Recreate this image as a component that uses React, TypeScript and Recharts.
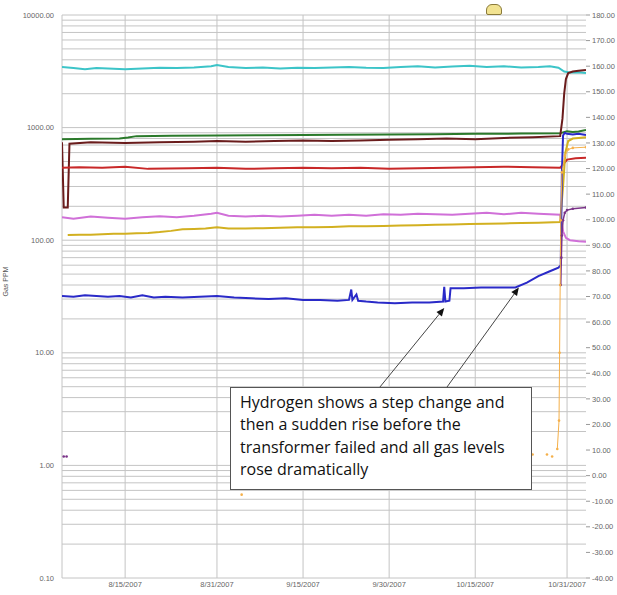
import React from 'react';
import {
  LineChart,
  Line,
  XAxis,
  YAxis,
  CartesianGrid,
  ReferenceLine,
} from 'recharts';

// x values are days counted from 8/1/2007
const xTicks = [14, 30, 45, 60, 75, 91];
const xTickLabels = ['8/15/2007', '8/31/2007', '9/15/2007', '9/30/2007', '10/15/2007', '10/31/2007'];
const xDomain = [3, 94.3];

const leftTicks = [0.1, 1, 10, 100, 1000, 10000];
const rightTicks = [-40, -30, -20, -10, 0, 10, 20, 30, 40, 50, 60, 70, 80, 90, 100, 110, 120, 130, 140, 150, 160, 170, 180];

// gas readings, [day, ppm]
const cyan = [
  [3, 3450], [5, 3380], [7, 3300], [9, 3380], [11, 3350], [14, 3300], [17, 3350], [20, 3400],
  [23, 3380], [26, 3420], [29, 3500], [30, 3600], [32, 3450], [35, 3380], [38, 3420], [41, 3350],
  [44, 3400], [47, 3380], [50, 3420], [53, 3450], [56, 3400], [59, 3380], [62, 3450], [65, 3500],
  [68, 3420], [71, 3480], [74, 3550], [77, 3450], [80, 3500], [83, 3420], [86, 3450], [88, 3500],
  [89.5, 3400], [90.5, 3150], [91.5, 3080], [93, 3100], [94.3, 3050],
];
const green = [
  [3, 790], [8, 795], [13, 800], [14.5, 815], [16, 840], [22, 845], [30, 850], [38, 855], [45, 860],
  [52, 865], [60, 870], [68, 875], [75, 880], [83, 885], [89.8, 890], [91, 930], [92, 915], [93, 925],
  [94.3, 950],
];
const maroon = [
  [3, 740], [3.3, 195], [4.0, 195], [4.3, 720], [8, 740], [14, 730], [20, 740], [26, 750], [30, 760],
  [35, 750], [40, 760], [45, 770], [50, 760], [55, 770], [60, 780], [65, 790], [70, 800], [75, 790],
  [80, 810], [85, 820], [89.8, 840], [90.2, 1200], [90.5, 2000], [90.8, 2700], [91.2, 3050],
  [92, 3150], [93, 3200], [94.3, 3250],
];
const red = [
  [3, 440], [6, 445], [10, 440], [14, 450], [18, 430], [25, 435], [30, 440], [35, 430], [40, 435],
  [45, 440], [50, 435], [55, 440], [60, 430], [65, 435], [70, 440], [75, 445], [80, 450], [85, 445],
  [89.8, 440], [90.3, 470], [91, 520], [92.5, 535], [94.3, 540],
];
const magenta = [
  [3, 160], [5, 155], [8, 162], [11, 158], [14, 155], [17, 160], [20, 163], [23, 160], [26, 165],
  [29, 172], [30, 175], [32, 165], [35, 162], [38, 165], [41, 162], [44, 165], [47, 168], [50, 165],
  [53, 168], [56, 165], [59, 170], [62, 168], [65, 172], [68, 170], [71, 168], [74, 172], [77, 175],
  [80, 170], [83, 175], [86, 172], [89.8, 168], [90.3, 120], [90.8, 105], [91.5, 100], [93, 98], [94.3, 97],
];
const yellow = [
  [4, 111], [6, 112], [8, 112], [10, 113], [12, 114], [14, 114], [16, 115], [18, 116], [20, 118],
  [22, 121], [24, 125], [26, 126], [28, 127], [30, 130], [32, 127], [35, 127], [38, 128], [41, 129],
  [44, 130], [47, 130], [50, 131], [53, 133], [56, 133], [59, 134], [62, 135], [65, 136], [68, 137],
  [71, 138], [74, 139], [77, 140], [80, 141], [83, 142], [86, 143], [89.8, 145], [90.3, 300],
  [90.7, 600], [91.2, 760], [92, 800], [93, 810], [94.3, 820],
];
const blue = [
  [3, 32], [5, 31.5], [7, 32.5], [9, 32], [11, 31.5], [13, 32], [15, 31], [17, 32.5], [19, 31],
  [21, 31.5], [24, 31], [27, 31.5], [30, 32], [33, 31], [36, 30.5], [39, 30], [42, 30.5], [45, 29.5],
  [48, 29.5], [51, 29], [53, 29.5], [53.4, 36.5], [53.6, 29.5], [54.3, 33], [54.6, 29], [56, 28.5],
  [58, 28], [61, 27.5], [64, 28], [67, 28], [69.4, 28.5], [69.6, 38.5], [69.8, 28.5], [70.5, 29],
  [70.7, 37.5], [73, 37.5], [76, 38], [79, 38], [82, 38], [84, 42], [86, 48], [88, 53], [89.5, 57],
  [89.9, 60], [90.1, 400], [90.3, 850], [90.6, 900], [91, 880], [92, 870], [93, 880], [94.3, 860],
];
const purple = [
  [3.3, 1.2], [3.5, null], [3.8, 1.2], [50, null], [89.9, 40], [90.0, 70], [90.1, 110], [90.3, 150],
  [90.6, 175], [91, 185], [92, 190], [94.3, 195],
];
const orange = [
  [34.3, 0.55], [40, null], [85, 1.25], [86, null], [87.5, 1.25], [88, null], [88.4, 1.2], [88.8, null],
  [89.3, 1.4], [89.6, 2.5], [89.7, 10], [89.8, 40], [89.9, 150], [90.1, 400], [90.6, 560], [91.2, 640],
  [92, 660], [94.3, 670],
];

const series = [
  { name: 'cyan', points: cyan, color: '#3cc4c8', width: 2 },
  { name: 'green', points: green, color: '#2b7a2b', width: 2 },
  { name: 'maroon', points: maroon, color: '#6a1c1c', width: 2 },
  { name: 'red', points: red, color: '#c82828', width: 2 },
  { name: 'magenta', points: magenta, color: '#d070d8', width: 2 },
  { name: 'yellow', points: yellow, color: '#d2b020', width: 2 },
  { name: 'blue', points: blue, color: '#2a2ac8', width: 2 },
  { name: 'purple', points: purple, color: '#7a3388', width: 1.5, dots: true },
  { name: 'orange', points: orange, color: '#f5b04a', width: 1, dots: true },
];

const noteLines = [
  'Hydrogen shows a step change and',
  'then a sudden rise before the',
  'transformer failed and all gas levels',
  'rose dramatically',
];

// arrows from the note box to the hydrogen curve, [day, ppm]
const arrows = [
  { from: [58.3, 4.9], to: [69.6, 25] },
  { from: [70, 4.9], to: [82.6, 38] },
];

const gridValues = [0.1, 1, 10, 100, 1000]
  .flatMap((d) => [1, 2, 3, 4, 5, 6, 7, 8, 9].map((m) => +(m * d).toPrecision(3)))
  .concat(10000);

const Arrow = (props: any) => {
  const { x1, y1, x2, y2 } = props;
  const a = Math.atan2(y2 - y1, x2 - x1);
  const len = 8;
  const w = 3.5;
  const bx = x2 - len * Math.cos(a);
  const by = y2 - len * Math.sin(a);
  const pts = [
    `${x2},${y2}`,
    `${bx + w * Math.sin(a)},${by - w * Math.cos(a)}`,
    `${bx - w * Math.sin(a)},${by + w * Math.cos(a)}`,
  ].join(' ');
  return (
    <g>
      <line x1={x1} y1={y1} x2={bx} y2={by} stroke="#444" strokeWidth={1} />
      <polygon points={pts} fill="#111" />
    </g>
  );
};

const tickStyle = { fill: '#666', fontSize: 7.5 };

export default function App() {
  return (
    <div style={{ position: 'absolute', left: 0, top: 0, width: 617, height: 595, background: '#fff' }}>
      <LineChart
        width={617}
        height={595}
        margin={{ top: 15, right: 0, left: 0, bottom: 2 }}
        style={{ fontFamily: 'Liberation Sans, Arial, sans-serif' }}
      >
        <CartesianGrid
          yAxisId="left"
          stroke="#c4c4c4"
          horizontal={false}
          verticalValues={[...xDomain, ...xTicks]}
        />
        {gridValues.map((v) => (
          <ReferenceLine key={v} yAxisId="left" y={v} stroke="#c4c4c4" strokeWidth={1} />
        ))}
        <XAxis
          type="number"
          dataKey="x"
          domain={xDomain}
          allowDataOverflow
          ticks={xTicks}
          tickFormatter={(v: number) => xTickLabels[xTicks.indexOf(v)]}
          tick={tickStyle}
          axisLine={false}
          tickLine={false}
          tickSize={2}
          tickMargin={2}
          height={15}
        />
        <YAxis
          yAxisId="left"
          scale="log"
          domain={[0.1, 10000]}
          allowDataOverflow
          ticks={leftTicks}
          tickFormatter={(v: number) => v.toFixed(2)}
          tick={tickStyle}
          axisLine={false}
          tickLine={false}
          width={62}
          label={{ value: 'Gas PPM', angle: -90, position: 'insideLeft', offset: 6, style: { fill: '#555', fontSize: 7 } }}
        />
        <YAxis
          yAxisId="right"
          orientation="right"
          domain={[-40, 180]}
          allowDataOverflow
          ticks={rightTicks}
          tickFormatter={(v: number) => v.toFixed(2)}
          tick={tickStyle}
          axisLine={false}
          tickLine={{ stroke: '#999' }}
          tickSize={4}
          tickMargin={2}
          width={31}
        />
        {series.map((s) => (
          <Line
            key={s.name}
            yAxisId="left"
            data={s.points.map(([x, y]) => ({ x, y }))}
            dataKey="y"
            stroke={s.color}
            strokeWidth={s.width}
            dot={s.dots ? { r: 1.3, fill: s.color, stroke: 'none' } : false}
            connectNulls={false}
            isAnimationActive={false}
          />
        ))}
        {arrows.map((a, i) => (
          <ReferenceLine
            key={i}
            yAxisId="left"
            segment={[
              { x: a.from[0], y: a.from[1] },
              { x: a.to[0], y: a.to[1] },
            ]}
            shape={Arrow}
          />
        ))}
      </LineChart>
      <div
        style={{
          position: 'absolute',
          left: 230,
          top: 387,
          width: 302,
          height: 103,
          boxSizing: 'border-box',
          border: '1px solid #555',
          background: '#fff',
          padding: '3px 0 0 9px',
          fontFamily: 'Open Sans, sans-serif',
          fontSize: 16,
          lineHeight: '22.4px',
          color: '#111',
          whiteSpace: 'nowrap',
        }}
      >
        {noteLines.map((t) => (
          <div key={t}>{t}</div>
        ))}
      </div>
      <div
        style={{
          position: 'absolute',
          left: 486,
          top: 4,
          width: 16,
          height: 11,
          boxSizing: 'border-box',
          border: '1px solid #8a7a3a',
          borderRadius: '6px 6px 2px 2px',
          background: '#f2e391',
        }}
      />
    </div>
  );
}
